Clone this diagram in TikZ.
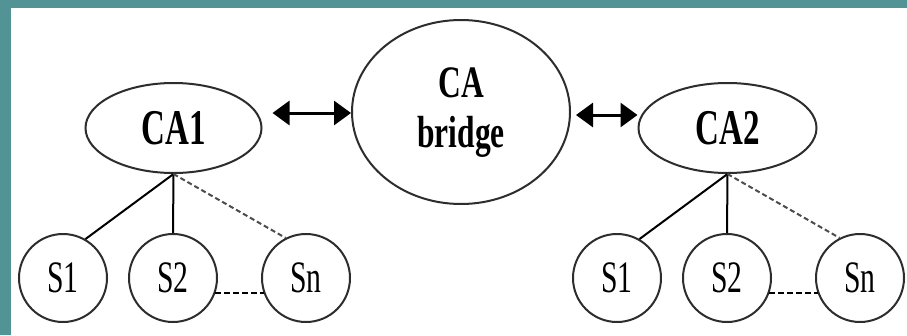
\documentclass[tikz,border=0pt]{standalone}
\usepackage{fontspec}
\setmainfont{Liberation Serif}
\usetikzlibrary{shapes.geometric,arrows.meta}
\definecolor{frame}{RGB}{82,148,150}
\definecolor{edge}{RGB}{45,45,45}
\tikzset{
  ca/.style={ellipse,draw=edge,line width=2pt,inner sep=0pt,font=\fontsize{50}{55}\selectfont\bfseries},
  srv/.style={circle,draw=edge,line width=2pt,inner sep=0pt,minimum size=88pt,font=\fontsize{45}{50}\selectfont},
  link/.style={line width=2pt,draw=black},
  dlink/.style={line width=2pt,draw=black!70,dash pattern=on 5pt off 3pt},
  blink/.style={line width=2.2pt,draw=black,dash pattern=on 6pt off 3pt},
  arr/.style={line width=3pt,{Triangle[length=17pt,width=24pt]}-{Triangle[length=17pt,width=24pt]}}
}
\newcommand{\sq}[1]{\scalebox{0.66}[1]{#1}}
\begin{document}
\begin{tikzpicture}[x=1pt,y=-1pt]
\useasboundingbox (0,0) rectangle (907,335);
\fill[frame] (0,0) rectangle (907,335);
\fill[white] (11,8) rectangle (907,335);
% CA nodes
\node[ca,minimum width=176pt,minimum height=90pt] (ca1) at (173.5,128) {\sq{CA1}};
\node[ca,minimum width=218pt,minimum height=184pt,font=\fontsize{45}{50}\selectfont\bfseries] (bridge) at (461,112)
  {\scalebox{0.7}[1]{\begin{tabular}{@{}c@{}}CA\\bridge\end{tabular}}};
\node[ca,minimum width=178pt,minimum height=90pt] (ca2) at (727.5,128) {\sq{CA2}};
% left servers
\node[srv] (l1) at (63,278) {\sq{S1}};
\node[srv] (l2) at (173,278) {\sq{S2}};
\node[srv] (ln) at (306,278) {\sq{Sn}};
% right servers
\node[srv] (r1) at (617,278) {\sq{S1}};
\node[srv] (r2) at (727,278) {\sq{S2}};
\node[srv] (rn) at (860,278) {\sq{Sn}};
% arrows
\draw[arr] ([xshift=10pt,yshift=15pt]ca1.east) -- ([yshift=-1pt]bridge.west);
\draw[arr] ([xshift=5pt,yshift=-3pt]bridge.east) -- ([yshift=13pt]ca2.west);
% left tree
\draw[link] (ca1.south) -- (l1.60);
\draw[link] (ca1.south) -- (l2.north);
\draw[dlink] (ca1.south) -- (ln.117);
\draw[blink] (l2.-20) -- (ln.200);
% right tree
\draw[link] (ca2.south) -- (r1.60);
\draw[link] (ca2.south) -- (r2.north);
\draw[dlink] (ca2.south) -- (rn.117);
\draw[blink] (r2.-20) -- (rn.200);
\end{tikzpicture}
\end{document}
